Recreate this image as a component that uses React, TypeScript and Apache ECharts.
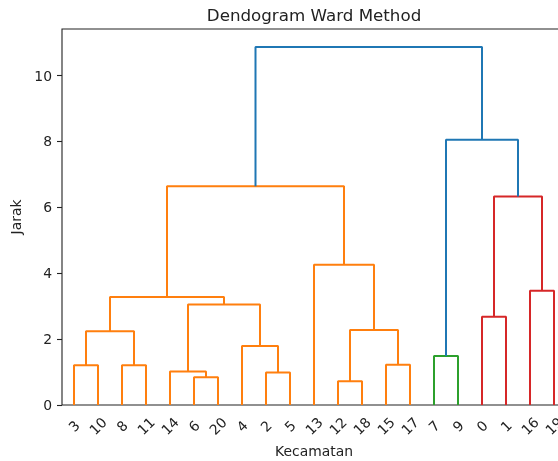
import React, { useEffect, useRef } from "react";
import * as echarts from "echarts";

// Leaf labels in dendrogram order (left to right)
const leafOrder = ["3", "10", "8", "11", "14", "6", "20", "4", "2", "5", "13", "12", "18", "15", "17", "7", "9", "0", "1", "16", "19"];
const leafCount = 21;
// Linkage: ids < 21 are leaves, id 21+k is merge k
const linkLeft = [12, 6, 2, 14, 3, 8, 15, 7, 4, 25, 21, 0, 24, 30, 16, 13, 32, 34, 28, 38];
const linkRight = [18, 20, 5, 22, 10, 11, 17, 9, 23, 26, 27, 1, 29, 33, 19, 31, 35, 36, 37, 39];
const linkHeight = [0.72, 0.84, 0.99, 1.02, 1.21, 1.21, 1.22, 1.49, 1.79, 2.24, 2.28, 2.68, 3.05, 3.28, 3.47, 4.26, 6.33, 6.64, 8.05, 10.87];
const linkCluster = ["C1", "C1", "C1", "C1", "C1", "C1", "C1", "C2", "C1", "C1", "C1", "C3", "C1", "C1", "C3", "C1", "C3", "C1", "C0", "C0"];
const yTicks = [0, 2, 4, 6, 8, 10];

const clusterColors: Record<string, string> = {
  C0: "#1f77b4",
  C1: "#ff7f0e",
  C2: "#2ca02c",
  C3: "#d62728",
};

function nodeX(id: number): number {
  if (id < leafCount) return 5 + 10 * leafOrder.indexOf(String(id));
  const k = id - leafCount;
  return (nodeX(linkLeft[k]) + nodeX(linkRight[k])) / 2;
}
function nodeY(id: number): number {
  if (id < leafCount) return 0;
  return linkHeight[id - leafCount];
}

export default function App() {
  const ref = useRef<HTMLDivElement>(null);
  useEffect(() => {
    document.body.style.margin = "0";
    if (!ref.current) return;
    const chart = echarts.init(ref.current, undefined, { renderer: "svg" });
    const font = "DejaVu Sans";
    const series = linkHeight.map((h, k) => {
      const l = linkLeft[k];
      const r = linkRight[k];
      return {
        type: "line",
        xAxisIndex: 1,
        yAxisIndex: 0,
        showSymbol: false,
        symbol: "none",
        silent: true,
        lineStyle: { color: clusterColors[linkCluster[k]], width: 2 },
        data: [
          [nodeX(l), nodeY(l)],
          [nodeX(l), h],
          [nodeX(r), h],
          [nodeX(r), nodeY(r)],
        ],
      };
    });
    const maxH = Math.max(...linkHeight);
    chart.setOption({
      animation: false,
      title: {
        text: "Dendogram Ward Method",
        left: 314,
        top: 6,
        padding: 0,
        textAlign: "center",
        textStyle: { fontFamily: font, fontSize: 16.7, fontWeight: "normal", color: "#222" },
      },
      grid: {
        left: 62,
        top: 29,
        width: 504,
        height: 376,
        outerBoundsMode: "none",
        containLabel: false,
        show: true,
        borderColor: "#222",
        borderWidth: 1.1,
        backgroundColor: "transparent",
      },
      xAxis: [
        {
          type: "category",
          data: leafOrder,
          boundaryGap: true,
          position: "bottom",
          axisLine: { show: false },
          axisTick: { show: false },
          splitLine: { show: false },
          axisLabel: {
            interval: 0,
            rotate: 45,
            align: "center",
            verticalAlign: "middle",
            margin: 21,
            fontFamily: font,
            fontSize: 13.9,
            color: "#222",
          },
          name: "Kecamatan",
          nameLocation: "middle",
          nameGap: 39,
          nameTextStyle: { fontFamily: font, fontSize: 13.9, color: "#222", verticalAlign: "top" },
        },
        {
          type: "value",
          min: 0,
          max: leafCount * 10,
          show: false,
          splitLine: { show: false },
        },
      ],
      yAxis: {
        type: "value",
        min: 0,
        max: maxH * 1.05,
        axisLine: { show: false },
        splitLine: { show: false },
        axisTick: {
          show: true,
          length: 5,
          customValues: yTicks,
          lineStyle: { color: "#222", width: 1.1 },
        },
        axisLabel: {
          customValues: yTicks,
          margin: 10,
          fontFamily: font,
          fontSize: 13.9,
          color: "#222",
        },
        name: "Jarak",
        nameLocation: "middle",
        nameGap: 36,
        nameTextStyle: { fontFamily: font, fontSize: 13.9, color: "#222" },
      },
      series,
    });
    return () => chart.dispose();
  }, []);
  return (
    <div
      ref={ref}
      style={{ width: 558, height: 461, position: "fixed", left: 0, top: 0 }}
    />
  );
}
